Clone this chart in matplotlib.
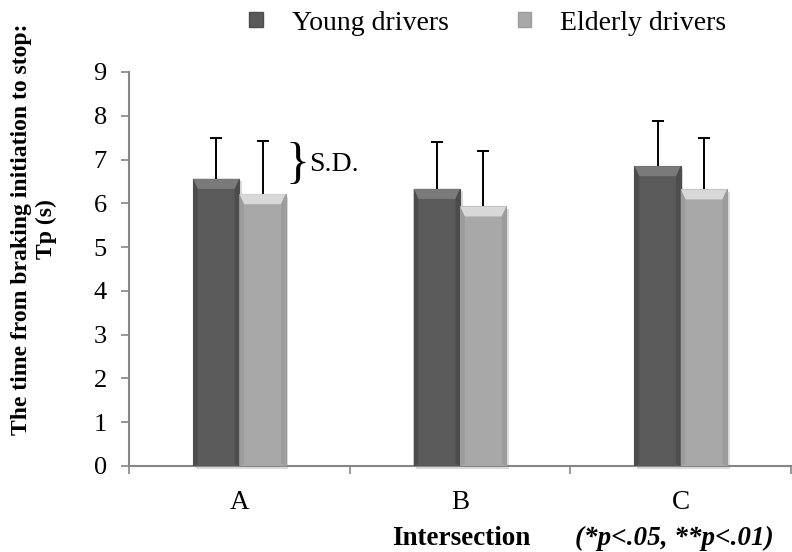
import matplotlib
matplotlib.use("Agg")
import matplotlib.pyplot as plt
from matplotlib.patches import Polygon, Rectangle
import numpy as np

plt.rcParams['font.family'] = ['Liberation Serif', 'DejaVu Serif']

categories = ["A", "B", "C"]
series_names = ["Young drivers", "Elderly drivers"]
young_mean = [6.56, 6.33, 6.85]
young_sd = [0.93, 1.06, 1.03]
elderly_mean = [6.21, 5.93, 6.32]
elderly_sd = [1.21, 1.27, 1.18]
yticks = list(range(0, 10))

face_colors = ["#5a5a5a", "#a8a8a8"]
top_colors = ["#7a7a7a", "#d8d8d8"]
side_colors = ["#4c4c4c", "#9c9c9c"]

fig = plt.figure(figsize=(7.92, 5.52), dpi=100)
ax = fig.add_axes([0.1629, 0.1558, 0.836, 0.7138])

x = np.arange(len(categories))
width = 0.21
offsets = [-width / 2, width / 2]
means = [young_mean, elderly_mean]
sds = [young_sd, elderly_sd]

for s in range(2):
    xs = x + offsets[s]
    bars = ax.bar(xs, means[s], width, color=face_colors[s],
                  edgecolor=side_colors[s], linewidth=0.8, zorder=3)
    # soft shadow and bevelled top edge on each bar
    for b in bars:
        x0, w, h = b.get_x(), b.get_width(), b.get_height()
        ax.add_patch(Rectangle((x0 + 0.012, -0.06), w, h, facecolor='#dcdcdc',
                               edgecolor='none', zorder=2, clip_on=False))
        bev_x = w * 0.1
        bev_y = 0.23
        ax.add_patch(Polygon([[x0, h], [x0 + w, h], [x0 + w - bev_x, h - bev_y],
                              [x0 + bev_x, h - bev_y]], closed=True,
                             facecolor=top_colors[s], edgecolor='none', zorder=4))
        ax.add_patch(Polygon([[x0, h], [x0 + bev_x, h - bev_y], [x0 + bev_x, 0.05], [x0, 0]],
                             closed=True, facecolor=side_colors[s], edgecolor='none', zorder=4))
        ax.add_patch(Polygon([[x0 + w, h], [x0 + w - bev_x, h - bev_y], [x0 + w - bev_x, 0.05], [x0 + w, 0]],
                             closed=True, facecolor=side_colors[s], edgecolor='none', zorder=4))
    # upper-only standard deviation whiskers
    tops = np.array(means[s]) + np.array(sds[s])
    ax.vlines(xs, means[s], tops, color='black', linewidth=1.4, zorder=5)
    ax.hlines(tops, xs - 0.027, xs + 0.027, color='black', linewidth=1.4, zorder=5)

ax.set_xlim(-0.5, 2.5)
ax.set_ylim(0, 9)
ax.set_yticks(yticks)
ax.set_yticklabels([str(t) for t in yticks], fontsize=19)
ax.set_xticks(x)
ax.set_xticklabels(categories, fontsize=19.5)
ax.set_xticks([-0.5, 0.5, 1.5, 2.5], minor=True)
ax.tick_params(axis='x', which='major', length=0, pad=17)
ax.tick_params(axis='x', which='minor', length=6, color='#868686', width=1.2)
ax.tick_params(axis='y', length=6, color='#868686', width=1.2, pad=10)
for side in ['top', 'right']:
    ax.spines[side].set_visible(False)
for side in ['left', 'bottom']:
    ax.spines[side].set_color('#868686')
    ax.spines[side].set_linewidth(1.5)

# S.D. annotation
ax.text(0.263, 6.88, "}", fontsize=36, ha='center', va='center', fontweight='light')
ax.text(0.318, 6.88, "S.D.", fontsize=20, ha='left', va='center')

fig.text(0.043, 0.585, "The time from braking initiation to stop:\nTp (s)", rotation=90,
         ha='center', va='center', fontsize=17, fontweight='bold', linespacing=1.2)
fig.text(0.582, 0.025, "Intersection", ha='center', va='center', fontsize=19.5, fontweight='bold')
fig.text(0.852, 0.025, "(*p<.05, **p<.01)", ha='center', va='center', fontsize=19.5,
         fontweight='bold', style='italic')

handles = [Rectangle((0, 0), 1, 1, facecolor=face_colors[i], edgecolor=side_colors[i])
           for i in range(2)]
fig.legend(handles, series_names, loc='center left', bbox_to_anchor=(0.315, 0.958), ncol=2,
           frameon=False, fontsize=20, handlelength=0.47, handleheight=0.47,
           columnspacing=2.5, handletextpad=1.05, borderpad=0, borderaxespad=0)

fig.savefig("out.png", dpi=100)
